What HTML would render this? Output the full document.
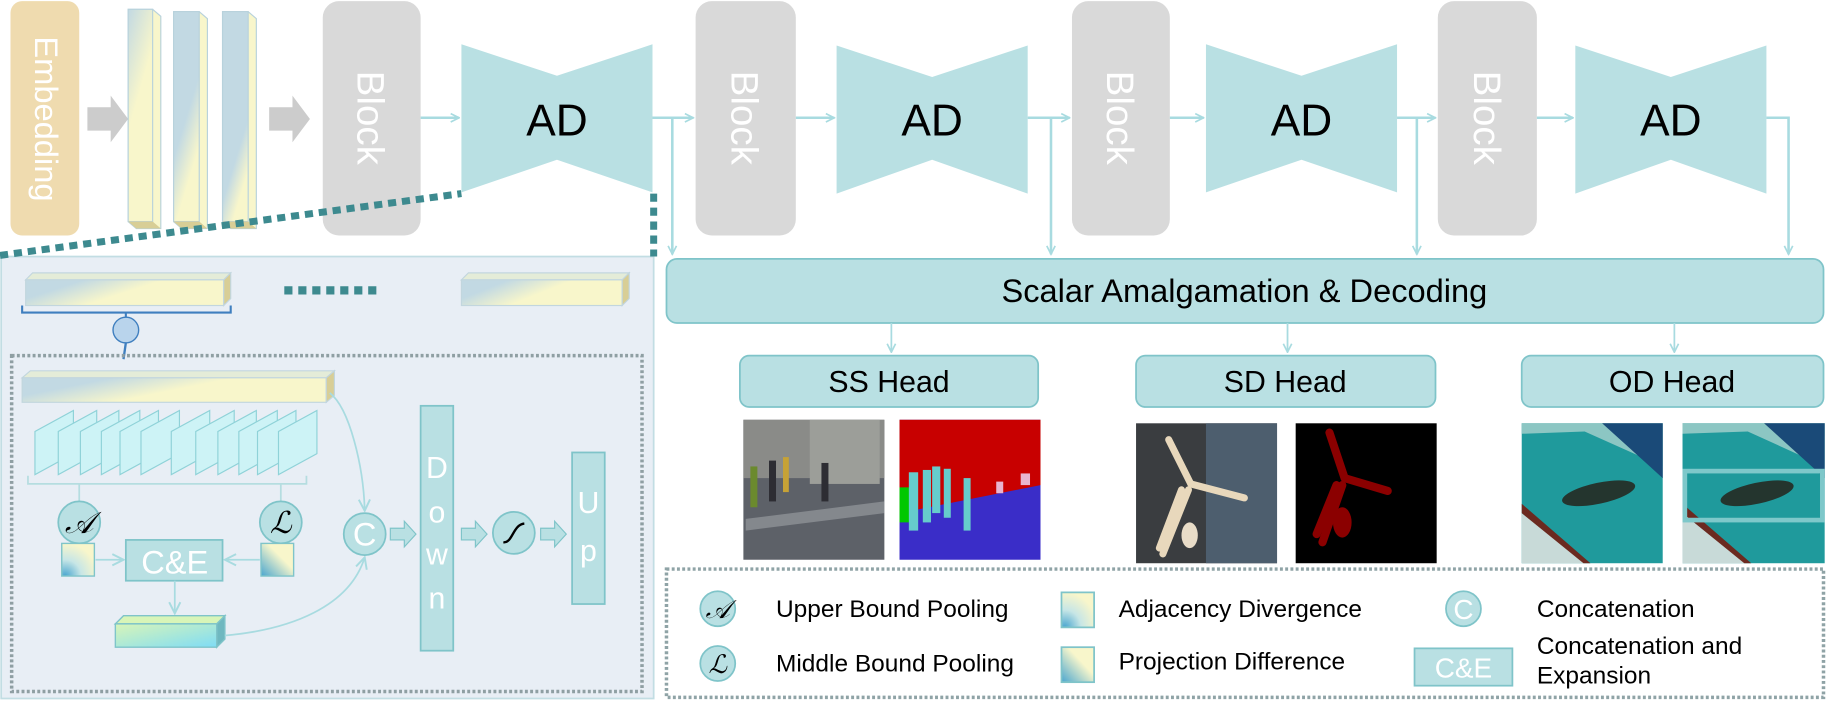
<!DOCTYPE html>
<html><head><meta charset="utf-8"><style>
html,body{margin:0;padding:0;background:#fff;}
svg{display:block;font-family:"Liberation Sans",sans-serif;}
</style></head><body>
<svg width="1827" height="702" viewBox="0 0 1568 602" preserveAspectRatio="none">
<defs>
<linearGradient id="bar" x1="0" y1="0" x2="1" y2="1">
<stop offset="0" stop-color="#c2d9e3"/><stop offset="0.45" stop-color="#c2d9e3"/><stop offset="0.7" stop-color="#f8f6cb"/><stop offset="1" stop-color="#f8f6cb"/></linearGradient>
<linearGradient id="barv1" x1="0" y1="0" x2="0.4" y2="1">
<stop offset="0" stop-color="#c2d9e3"/><stop offset="0.5" stop-color="#f8f6cb"/><stop offset="1" stop-color="#f8f6cb"/></linearGradient>
<linearGradient id="barv2" x1="0" y1="0" x2="0.4" y2="1">
<stop offset="0" stop-color="#c2d9e3"/><stop offset="0.6" stop-color="#c2d9e3"/><stop offset="0.9" stop-color="#f8f6cb"/></linearGradient>
<linearGradient id="barv3" x1="0" y1="0" x2="0.4" y2="1">
<stop offset="0" stop-color="#c2d9e3"/><stop offset="0.78" stop-color="#c2d9e3"/><stop offset="1" stop-color="#f8f6cb"/></linearGradient>
<linearGradient id="barh" x1="0" y1="0.3" x2="1" y2="0.7">
<stop offset="0" stop-color="#c2d9e3"/><stop offset="0.15" stop-color="#c2d9e3"/><stop offset="0.5" stop-color="#f8f6cb"/><stop offset="1" stop-color="#f8f6cb"/></linearGradient>
<linearGradient id="outbar" x1="0" y1="0" x2="1" y2="1">
<stop offset="0" stop-color="#d8f5b8"/><stop offset="1" stop-color="#7fdcf5"/></linearGradient>
<radialGradient id="sqA" cx="0.1" cy="1" r="1">
<stop offset="0" stop-color="#4aa6d0"/><stop offset="0.5" stop-color="#c7e6e6"/><stop offset="1" stop-color="#f8f6cb"/></radialGradient>
<linearGradient id="sqL" x1="0" y1="1" x2="1" y2="0">
<stop offset="0" stop-color="#4aa6d0"/><stop offset="0.6" stop-color="#f8f6cb"/><stop offset="1" stop-color="#f8f6cb"/></linearGradient>
<marker id="ah" viewBox="0 0 10 10" refX="9" refY="5" markerWidth="9" markerHeight="9" orient="auto" markerUnits="userSpaceOnUse">
<path d="M1,1 L9,5 L1,9" fill="none" stroke="#a8dbe0" stroke-width="1.6"/></marker>
<marker id="ah2" viewBox="0 0 10 10" refX="9" refY="5" markerWidth="12" markerHeight="12" orient="auto" markerUnits="userSpaceOnUse">
<path d="M1,1 L9,5 L1,9" fill="none" stroke="#a8dbe0" stroke-width="1.4"/></marker>
</defs>

<!-- Embedding -->
<rect x="9" y="1" width="59" height="201" rx="10" fill="#efdbaf"/>
<text transform="translate(30,102) rotate(90)" text-anchor="middle" font-size="28" fill="#fff">Embedding</text>
<!-- gray arrows -->
<path d="M75,92 H95 V82 L110,102 L95,122 V112 H75 Z" fill="#cccccc"/>
<path d="M231,92 H251 V82 L266,102 L251,122 V112 H231 Z" fill="#cccccc"/>
<!-- vertical bars -->
<g stroke="#b8d2dc" stroke-width="1">
<path d="M110,8 H131 L138,14 V196 H117 L110,190 Z" fill="#f8f6cb"/>
<rect x="110" y="8" width="21" height="182" fill="url(#barv1)"/>
<path d="M149,10 H171 L178,16 V196 H156 L149,190 Z" fill="#f8f6cb"/>
<rect x="149" y="10" width="22" height="180" fill="url(#barv2)"/>
<path d="M191,10 H213 L220,16 V196 H198 L191,190 Z" fill="#f8f6cb"/>
<rect x="191" y="10" width="22" height="180" fill="url(#barv3)"/>
</g>
<path d="M110,190 H131 L138,196 H117 Z M149,190 H171 L178,196 H156 Z M191,190 H213 L220,196 H198 Z" fill="#d8ce96"/>

<!-- Blocks -->
<g fill="#d9d9d9">
<rect x="277" y="1" width="84" height="201" rx="14"/>
<rect x="597" y="1" width="86" height="201" rx="14"/>
<rect x="920" y="1" width="84" height="201" rx="14"/>
<rect x="1234" y="1" width="85" height="201" rx="14"/>
</g>
<g font-size="33" fill="#fff" text-anchor="middle">
<text transform="translate(307,101) rotate(90)">Block</text>
<text transform="translate(628,101) rotate(90)">Block</text>
<text transform="translate(950,101) rotate(90)">Block</text>
<text transform="translate(1265,101) rotate(90)">Block</text>
</g>
<!-- AD bowties -->
<g fill="#b9e0e3">
<path d="M396,38 L478,65 L560,38 V165 L478,137 L396,165 Z"/>
<path d="M718,39 L800,66 L882,39 V166 L800,137 L718,166 Z"/>
<path d="M1035,38 L1117,65 L1199,38 V165 L1117,137 L1035,165 Z"/>
<path d="M1352,39 L1434,66 L1516,39 V166 L1434,137 L1352,166 Z"/>
</g>
<g font-size="38" fill="#000" text-anchor="middle">
<text x="478" y="116">AD</text><text x="800" y="116">AD</text>
<text x="1117" y="116">AD</text><text x="1434" y="116">AD</text>
</g>
<!-- flow connectors -->
<g stroke="#a8dbe0" stroke-width="2.2" fill="none">
<path d="M361,101 H394" marker-end="url(#ah)"/>
<path d="M560,101 H595" marker-end="url(#ah)"/>
<path d="M577,101 V218" marker-end="url(#ah)"/>
<path d="M683,101 H716" marker-end="url(#ah)"/>
<path d="M882,101 H918" marker-end="url(#ah)"/>
<path d="M902,101 V218" marker-end="url(#ah)"/>
<path d="M1004,101 H1033" marker-end="url(#ah)"/>
<path d="M1199,101 H1232" marker-end="url(#ah)"/>
<path d="M1216,101 V218" marker-end="url(#ah)"/>
<path d="M1319,101 H1350" marker-end="url(#ah)"/>
<path d="M1516,101 H1535 V218" marker-end="url(#ah)"/>
</g>

<!-- Scalar box -->
<rect x="572" y="222" width="993" height="55" rx="9" fill="#b9e0e3" stroke="#7fc4c9" stroke-width="1.5"/>
<text x="1068" y="259" font-size="28" text-anchor="middle" fill="#000">Scalar Amalgamation &amp; Decoding</text>
<g stroke="#a8dbe0" stroke-width="1.5" fill="none">
<path d="M765,277 V302" marker-end="url(#ah)"/>
<path d="M1105,277 V302" marker-end="url(#ah)"/>
<path d="M1437,277 V302" marker-end="url(#ah)"/>
</g>
<!-- Heads -->
<g fill="#b9e0e3" stroke="#7fc4c9" stroke-width="1.5">
<rect x="635" y="305" width="256" height="44" rx="8"/>
<rect x="975" y="305" width="257" height="44" rx="8"/>
<rect x="1306" y="305" width="259" height="44" rx="8"/>
</g>
<g font-size="26" text-anchor="middle" fill="#000">
<text x="763" y="336">SS Head</text><text x="1103" y="336">SD Head</text><text x="1435" y="336">OD Head</text>
</g>

<!-- Images -->
<!-- SS left -->
<rect x="638" y="360" width="121" height="120" fill="#5d6168"/>
<rect x="638" y="360" width="121" height="50" fill="#8a8b88"/>
<rect x="695" y="360" width="60" height="55" fill="#9c9e99"/>
<path d="M640,445 L759,430 V440 L640,455 Z" fill="#9ea2a6" opacity="0.6"/>
<rect x="644" y="400" width="6" height="35" fill="#6b8a2e"/>
<rect x="660" y="395" width="6" height="35" fill="#2d2d33"/>
<rect x="672" y="392" width="5" height="30" fill="#c6a236"/>
<rect x="705" y="397" width="6" height="33" fill="#2d2d33"/>
<!-- SS right -->
<rect x="772" y="360" width="121" height="120" fill="#3a2dc8"/>
<path d="M772,360 H893 V416 L772,440 Z" fill="#c80000"/>
<path d="M772,418 h12 v30 h-12 Z" fill="#00c800"/>
<g fill="#66cccc"><rect x="780" y="405" width="8" height="50"/><rect x="792" y="403" width="7" height="45"/><rect x="800" y="400" width="7" height="40"/><rect x="810" y="402" width="6" height="42"/><rect x="827" y="410" width="6" height="45"/></g>
<g fill="#e8b4d0"><rect x="855" y="413" width="6" height="10"/><rect x="876" y="406" width="8" height="10"/></g>
<!-- SD left -->
<rect x="975" y="363" width="121" height="120" fill="#3a3d40"/>
<rect x="1035" y="363" width="61" height="120" fill="#4d5e6e"/>
<g stroke="#e8d8bc" stroke-width="6" stroke-linecap="round"><path d="M1003,377 L1022,415"/><path d="M1022,415 L1068,427"/><path d="M1020,420 L998,475"/><path d="M1014,420 L995,470"/></g>
<ellipse cx="1021" cy="459" rx="7" ry="11" fill="#e8dcc8"/>
<!-- SD right -->
<rect x="1112" y="363" width="121" height="120" fill="#000"/>
<g stroke="#8b0000" stroke-width="7" stroke-linecap="round"><path d="M1141,371 L1154,410"/><path d="M1154,410 L1191,421"/><path d="M1152,416 L1135,465"/><path d="M1147,416 L1130,458"/></g>
<ellipse cx="1152" cy="448" rx="8" ry="13" fill="#8b0000"/>
<!-- OD left -->
<rect x="1306" y="363" width="121" height="120" fill="#1f9a9c"/>
<path d="M1306,363 H1427 V400 L1360,370 L1306,372 Z" fill="#8cc6c3"/>
<path d="M1375,363 H1427 V410 Z" fill="#1a4a78"/>
<path d="M1306,440 L1360,483 H1306 Z" fill="#c8dad8"/>
<path d="M1306,432 L1365,483 h-6 L1306,440 Z" fill="#6b2a20"/>
<ellipse cx="1372" cy="423" rx="32" ry="9" fill="#24352e" transform="rotate(-12 1372 423)"/>
<!-- OD right -->
<rect x="1444" y="363" width="122" height="120" fill="#1f9a9c"/>
<path d="M1444,363 H1566 V400 L1500,370 L1444,372 Z" fill="#8cc6c3"/>
<path d="M1514,363 H1566 V410 Z" fill="#1a4a78"/>
<path d="M1444,440 L1498,483 H1444 Z" fill="#c8dad8"/>
<path d="M1444,432 L1503,483 h-6 L1444,440 Z" fill="#6b2a20"/>
<ellipse cx="1508" cy="423" rx="32" ry="9" fill="#24352e" transform="rotate(-12 1508 423)"/>
<rect x="1446" y="404" width="118" height="42" fill="none" stroke="#7ec8ca" stroke-width="4"/>

<!-- Legend -->
<rect x="572" y="488" width="993" height="110" fill="#fff" stroke="#8fa3a6" stroke-width="3" stroke-dasharray="2.5,2"/>
<g fill="#b9e0e3" stroke="#7fc4c9" stroke-width="1.5">
<circle cx="616" cy="522" r="15"/><circle cx="616" cy="569" r="15"/><circle cx="1256" cy="522" r="15"/>
<rect x="1214" y="556" width="84" height="32"/>
</g>
<rect x="911" y="508" width="28" height="30" fill="url(#sqA)" stroke="#7fc4c9" stroke-width="1.5"/>
<rect x="911" y="555" width="28" height="30" fill="url(#sqL)" stroke="#7fc4c9" stroke-width="1.5"/>
<g font-family="'DejaVu Serif',serif" font-style="italic" font-size="22" text-anchor="middle" fill="#000">
<text x="616" y="530">𝒜</text><text x="616" y="577">ℒ</text></g>
<text x="1256" y="531" font-size="24" fill="#fff" text-anchor="middle">C</text>
<text x="1256" y="581" font-size="24" fill="#fff" text-anchor="middle">C&amp;E</text>
<g font-size="21" fill="#000">
<text x="666" y="529">Upper Bound Pooling</text>
<text x="666" y="576">Middle Bound Pooling</text>
<text x="960" y="529">Adjacency Divergence</text>
<text x="960" y="574">Projection Difference</text>
<text x="1319" y="529">Concatenation</text>
<text x="1319" y="561">Concatenation and</text>
<text x="1319" y="586">Expansion</text>
</g>

<!-- Left detail panel -->
<rect x="1" y="220" width="560" height="379" fill="#e8eef5" stroke="#c2dde3" stroke-width="1.5"/>
<path d="M0,219 L396,166" stroke="#3d8a8f" stroke-width="6" stroke-dasharray="7,5"/>
<path d="M561,166 V220" stroke="#3d8a8f" stroke-width="6" stroke-dasharray="7,5"/>
<!-- top bars -->
<g stroke="#c2d6de" stroke-width="1">
<path d="M22,240 L28,234 H198 L192,240 Z" fill="#e4ecd8"/>
<rect x="22" y="240" width="170" height="22" fill="url(#barh)"/>
<path d="M192,240 L198,234 V256 L192,262 Z" fill="#d8ce96"/>
<path d="M396,240 L402,234 H540 L534,240 Z" fill="#e4ecd8"/>
<rect x="396" y="240" width="138" height="22" fill="url(#barh)"/>
<path d="M534,240 L540,234 V256 L534,262 Z" fill="#d8ce96"/>
</g>
<path d="M244,249 H328" stroke="#3d8a8f" stroke-width="7" stroke-dasharray="7,5"/>
<path d="M19,262 V268 H198 V262 M108,268 V276" stroke="#3f7fbf" stroke-width="1.8" fill="none"/>
<ellipse cx="108" cy="283" rx="11" ry="11" fill="#b9d4ec" stroke="#3f7fbf" stroke-width="1.2"/>
<path d="M108,294 L106,308" stroke="#3f7fbf" stroke-width="2"/>
<!-- inner dotted box -->
<rect x="10" y="305" width="541" height="288" fill="none" stroke="#8f9fa3" stroke-width="3" stroke-dasharray="2.5,2"/>
<!-- long bar -->
<g stroke="#c2d6de" stroke-width="1">
<path d="M19,324 L26,318 H287 L280,324 Z" fill="#e4ecd8"/>
<rect x="19" y="324" width="261" height="21" fill="url(#barh)"/>
<path d="M280,324 L287,318 V339 L280,345 Z" fill="#d8ce96"/>
</g>
<!-- planes -->
<g fill="#cdf3f6" stroke="#8fd2d8" stroke-width="1">
<path d="M30,407 V370 L63,352 V389 Z"/><path d="M50,407 V370 L83,352 V389 Z"/><path d="M69,407 V370 L102,352 V389 Z"/>
<path d="M87,407 V370 L120,352 V389 Z"/><path d="M103,407 V370 L136,352 V389 Z"/><path d="M121,407 V370 L154,352 V389 Z"/>
<path d="M147,407 V370 L180,352 V389 Z"/><path d="M168,407 V370 L201,352 V389 Z"/><path d="M187,407 V370 L220,352 V389 Z"/>
<path d="M205,407 V370 L238,352 V389 Z"/><path d="M221,407 V370 L254,352 V389 Z"/><path d="M239,407 V370 L272,352 V389 Z"/>
</g>
<path d="M24,408 V415 H263 V408 M68,415 V430 M241,415 V430" stroke="#b5dde0" stroke-width="1.5" fill="none"/>
<!-- A / L circles -->
<g fill="#b9e0e3" stroke="#7fc4c9" stroke-width="1.5">
<circle cx="68" cy="448" r="18"/><circle cx="241" cy="448" r="18"/><circle cx="313" cy="458" r="18"/><circle cx="441" cy="457" r="18"/>
<rect x="108" y="463" width="83" height="35"/>
<rect x="361" y="348" width="28" height="210"/>
<rect x="491" y="388" width="28" height="130"/>
</g>
<g font-family="'DejaVu Serif',serif" font-style="italic" font-size="26" text-anchor="middle" fill="#000">
<text x="68" y="457">𝒜</text><text x="241" y="457">ℒ</text></g>
<path d="M432,465 C440,466 440,450 450,449" stroke="#000" stroke-width="2" fill="none"/>
<text x="313" y="468" font-size="28" fill="#fff" text-anchor="middle">C</text>
<text x="150" y="492" font-size="28" fill="#fff" text-anchor="middle">C&amp;E</text>
<g font-size="26" fill="#fff" text-anchor="middle">
<text x="375" y="410">D</text><text x="375" y="448">o</text><text x="375" y="484">w</text><text x="375" y="522">n</text>
<text x="505" y="440">U</text><text x="505" y="481">p</text>
</g>
<rect x="53" y="466" width="28" height="28" fill="url(#sqA)" stroke="#7fc4c9" stroke-width="1.2"/>
<rect x="224" y="466" width="28" height="28" fill="url(#sqL)" stroke="#7fc4c9" stroke-width="1.2"/>
<!-- output bar -->
<g stroke="#7fc4c9" stroke-width="1.2">
<path d="M99,535 L106,528 H193 L186,535 Z" fill="#d8f5b8"/>
<rect x="99" y="535" width="87" height="20" fill="url(#outbar)"/>
<path d="M186,535 L193,528 V548 L186,555 Z" fill="#6fb8c0"/>
</g>
<!-- inner connectors -->
<g stroke="#a8dbe0" stroke-width="1.5" fill="none">
<path d="M82,480 H106" marker-end="url(#ah2)"/>
<path d="M223,480 H193" marker-end="url(#ah2)"/>
<path d="M150,498 V526" marker-end="url(#ah2)"/>
<path d="M283,337 C300,350 312,400 313,438" marker-end="url(#ah2)"/>
<path d="M193,545 C250,540 300,520 313,478" marker-end="url(#ah2)"/>
</g>
<g fill="#b9e0e3" stroke="#7fc4c9" stroke-width="1">
<path d="M335,453 H347 V447 L357,458 L347,469 V463 H335 Z"/>
<path d="M396,453 H408 V447 L418,458 L408,469 V463 H396 Z"/>
<path d="M464,453 H476 V447 L486,458 L476,469 V463 H464 Z"/>
</g>
</svg>
</body></html>
